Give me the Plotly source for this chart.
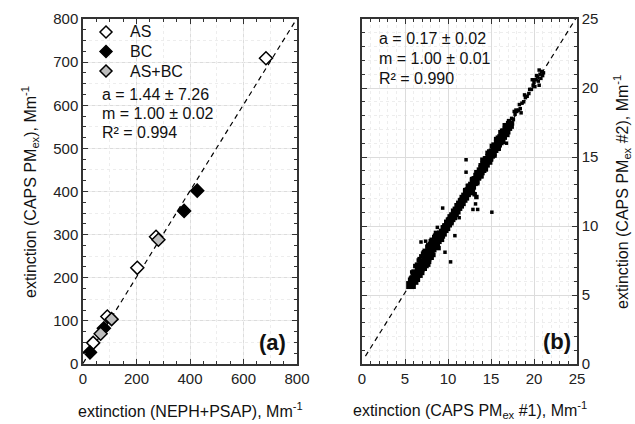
import plotly.graph_objects as go

FONT = "Liberation Sans, Arial, sans-serif"

# ---------------- Panel (a) data ----------------
as_x = [38, 91, 203, 273, 684]
as_y = [49, 110, 223, 295, 709]
as_xerr = [10, 12, 14, 16, 24]
as_yerr = [7, 8, 9, 10, 10]

asbc_x = [66, 107, 282]
asbc_y = [70, 104, 288]
asbc_xerr = [12, 12, 16]
asbc_yerr = [8, 8, 10]

bc_x = [26, 78, 378, 427]
bc_y = [27, 83, 355, 402]
bc_xerr = [8, 10, 14, 14]
bc_yerr = [6, 7, 9, 9]

legend_names = ["AS", "BC", "AS+BC"]
legend_fills = ["white", "black", "#bdbdbd"]

fit_a = {"a": 1.44, "m": 1.00, "a_err": 7.26, "m_err": 0.02, "r2": 0.994}
line_a_x = [0, 800]

# ---------------- Panel (b) data ----------------
core_x = [5.6, 5.8, 6.0, 6.2, 6.4, 6.6, 6.8, 7.0, 7.2, 7.4, 7.6, 7.8, 8.0, 8.2, 8.4,
          8.6, 8.8, 9.0, 9.2, 9.4, 9.6, 9.8, 10.0, 10.2, 10.4, 10.6, 10.8, 11.0, 11.2,
          11.4, 11.6, 11.8, 12.0, 12.2, 12.4, 12.6, 12.8, 13.0, 13.2, 13.4, 13.6, 13.8,
          14.0, 14.2, 14.4, 14.6, 14.8, 15.0, 15.2, 15.4, 15.6, 15.8, 16.0, 16.2, 16.4,
          16.6, 16.8, 17.0, 17.2]
core_y = [5.72, 5.98, 6.15, 6.38, 6.52, 6.79, 6.93, 7.18, 7.33, 7.58, 7.71, 7.97, 8.12,
          8.38, 8.55, 8.74, 8.98, 9.13, 9.37, 9.52, 9.78, 9.92, 10.18, 10.33, 10.57,
          10.71, 10.98, 11.12, 11.38, 11.55, 11.73, 11.97, 12.13, 12.38, 12.52, 12.79,
          12.92, 13.18, 13.33, 13.57, 13.74, 13.96, 14.13, 14.38, 14.52, 14.78, 14.94,
          15.17, 15.33, 15.58, 15.72, 15.97, 16.14, 16.37, 16.53, 16.78, 16.92, 17.18,
          17.33]

spread_x = [5.7, 6.0, 6.4, 6.9, 7.3, 7.7, 8.1, 8.6, 6.3, 6.8, 7.3, 7.8, 8.3, 8.8, 9.3,
            9.0, 9.6, 10.1, 10.6, 11.1, 11.5, 10.4, 10.9,
            12.0, 12.3, 12.8, 13.3, 13.8, 14.3, 14.8, 15.3, 15.8, 16.3,
            12.9, 13.4, 13.9, 14.4, 14.9, 15.4, 15.9, 16.4, 16.9, 13.1, 13.3, 12.7,
            6.6, 7.1, 7.6, 8.0, 8.4, 6.0, 6.5, 7.0, 7.5, 8.1, 14.0, 14.6, 15.1, 15.6,
            16.1, 16.6, 13.6, 14.1, 15.0, 16.0, 17.1,
            6.2, 6.7, 7.2, 7.9, 8.5, 5.9, 7.7, 8.9]
spread_y = [6.2, 6.7, 7.2, 7.8, 8.2, 8.6, 9.0, 9.5, 5.9, 6.4, 6.9, 7.4, 7.9, 8.5, 9.0,
            9.5, 10.0, 10.5, 10.9, 11.5, 11.9, 10.3, 10.8,
            12.6, 12.9, 13.4, 13.9, 14.4, 14.9, 15.4, 15.9, 16.4, 16.9,
            12.6, 13.1, 13.6, 14.1, 14.6, 15.1, 15.6, 16.1, 16.6, 12.3, 12.1, 12.4,
            7.5, 8.0, 8.5, 8.9, 9.2, 5.6, 6.1, 6.6, 7.1, 7.7, 14.8, 15.3, 15.8, 16.3,
            16.8, 17.3, 13.5, 14.0, 14.9, 15.9, 17.6,
            7.1, 7.6, 8.1, 8.7, 9.3, 6.6, 7.2, 8.4]

sparse_x = [17.4, 17.6, 17.8, 18.0, 18.2, 18.4, 18.6, 18.8, 19.0, 19.2, 19.5, 19.7,
            20.0, 20.2, 20.4, 20.5, 20.7, 20.9, 21.0, 20.8, 20.3, 19.9, 17.5, 17.9,
            18.3, 18.9, 19.4, 20.1, 20.6, 21.1, 17.7, 18.5, 19.8, 20.6]
sparse_y = [17.8, 17.7, 18.1, 18.3, 18.4, 18.5, 18.9, 19.0, 19.3, 19.4, 19.9, 19.9,
            20.4, 20.6, 20.8, 20.5, 21.0, 21.2, 20.9, 20.7, 20.9, 20.2, 17.4, 18.4,
            18.8, 19.5, 19.6, 20.1, 21.3, 21.1, 18.3, 18.2, 20.6, 20.2]

out_x = [12.1, 12.1, 13.45, 12.9, 6.86, 9.38, 8.76, 10.8, 15.1, 10.3, 9.65, 5.78, 13.2,
         7.4, 11.3, 16.8]
out_y = [14.8, 13.9, 11.2, 11.2, 8.84, 11.3, 9.9, 9.3, 11.0, 7.4, 8.1, 6.67, 11.6,
         8.9, 10.6, 16.0]

fit_b = {"a": 0.17, "m": 1.00, "a_err": 0.02, "m_err": 0.01, "r2": 0.990}
line_b_x = [0.4, 25]

W, H = 635, 424

# ---------------- Figure ----------------
fig = go.Figure()

def diamonds(x, y, xe, ye, fill, name):
    return go.Scatter(
        x=x, y=y, mode="markers", name=name, showlegend=False,
        marker=dict(symbol="diamond", size=10, color=fill,
                    line=dict(color="black", width=1.5)),
        error_x=dict(type="data", array=xe, color="black", thickness=1, width=0),
        error_y=dict(type="data", array=ye, color="black", thickness=1, width=0),
        xaxis="x", yaxis="y", cliponaxis=False,
    )

fig.add_trace(go.Scatter(
    x=line_a_x, y=[fit_a["a"] + fit_a["m"] * v for v in line_a_x], mode="lines",
    line=dict(color="black", width=1.2, dash="5px,4px"), showlegend=False,
    xaxis="x", yaxis="y"))
fig.add_trace(diamonds(as_x, as_y, as_xerr, as_yerr, legend_fills[0], legend_names[0]))
fig.add_trace(diamonds(bc_x, bc_y, bc_xerr, bc_yerr, legend_fills[1], legend_names[1]))
fig.add_trace(diamonds(asbc_x, asbc_y, asbc_xerr, asbc_yerr, legend_fills[2],
                       legend_names[2]))

# dummy traces to activate the overlay grid axes
fig.add_trace(go.Scatter(x=[None], y=[None], xaxis="x3", yaxis="y", showlegend=False,
                         hoverinfo="skip"))
fig.add_trace(go.Scatter(x=[None], y=[None], xaxis="x", yaxis="y3", showlegend=False,
                         hoverinfo="skip"))

# panel b
fig.add_trace(go.Scatter(
    x=line_b_x, y=[fit_b["a"] + fit_b["m"] * v for v in line_b_x], mode="lines",
    line=dict(color="black", width=1.2, dash="5px,4px"), showlegend=False,
    xaxis="x2", yaxis="y2"))
fig.add_trace(go.Scatter(x=core_x, y=core_y, mode="markers", showlegend=False,
                         marker=dict(symbol="square", size=8, color="black"),
                         xaxis="x2", yaxis="y2"))
fig.add_trace(go.Scatter(x=spread_x, y=spread_y, mode="markers", showlegend=False,
                         marker=dict(symbol="square", size=4.5, color="black"),
                         xaxis="x2", yaxis="y2"))
fig.add_trace(go.Scatter(x=sparse_x, y=sparse_y, mode="markers", showlegend=False,
                         marker=dict(symbol="square", size=3.5, color="black"),
                         xaxis="x2", yaxis="y2"))
fig.add_trace(go.Scatter(x=out_x, y=out_y, mode="markers", showlegend=False,
                         marker=dict(symbol="square", size=3.5, color="black"),
                         xaxis="x2", yaxis="y2"))

xa_dom = [83 / W, 297 / W]
xb_dom = [362 / W, 577 / W]
y_dom = [1 - 364 / H, 1 - 19 / H]

tickfont = dict(family=FONT, size=15, color="#222")
grid_major = "#dcdcdc"
grid_minor = "#ededed"

common = dict(showline=True, linecolor="#333", linewidth=1.5, mirror="ticks",
              ticks="inside", ticklen=5, tickwidth=1, tickcolor="#333",
              tickfont=tickfont, zeroline=False, showgrid=True,
              gridcolor=grid_major, gridwidth=1, automargin=False)
overlay = dict(showgrid=True, griddash="dot", gridcolor=grid_minor,
               showticklabels=False, ticks="", showline=False, zeroline=False,
               automargin=False)

fig.update_layout(
    width=W, height=H, margin=dict(l=0, r=0, t=0, b=0),
    paper_bgcolor="white", plot_bgcolor="white",
    font=dict(family=FONT, size=15, color="#222"),
    showlegend=False,
    xaxis=dict(domain=xa_dom, range=[0, 800], dtick=200, anchor="y",
               minor=dict(dtick=50, ticks="inside", ticklen=3, tickcolor="#333",
                          showgrid=False), **common),
    yaxis=dict(domain=y_dom, range=[0, 800], dtick=100, anchor="x",
               minor=dict(dtick=25, ticks="inside", ticklen=3, tickcolor="#333",
                          showgrid=False), **common),
    xaxis3=dict(overlaying="x", range=[0, 800], dtick=100, anchor="y", **overlay),
    yaxis3=dict(overlaying="y", range=[0, 800], dtick=50, anchor="x", **overlay),
    xaxis2=dict(domain=xb_dom, range=[0, 25], dtick=5, anchor="y2",
                minor=dict(dtick=1, ticks="inside", ticklen=3, tickcolor="#333",
                           showgrid=True, griddash="dot", gridcolor=grid_minor),
                **common),
    yaxis2=dict(domain=y_dom, range=[0, 25], dtick=5, anchor="x2", side="right",
                minor=dict(dtick=1, ticks="inside", ticklen=3, tickcolor="#333",
                           showgrid=True, griddash="dot", gridcolor=grid_minor),
                **common),
)

# manual legend (keys drawn as shapes in paper space)
shapes = []
ann = []

def px2paper(px, py):
    return px / W, 1 - py / H

def txt(x, y, s, size=15, angle=0, xanchor="left"):
    ann.append(dict(x=x / W, y=1 - y / H, xref="paper", yref="paper", text=s,
                    showarrow=False, xanchor=xanchor, yanchor="middle",
                    textangle=angle,
                    font=dict(family=FONT, size=size, color="#111")))

leg_cx, leg_y0, leg_dy, half = 106, 32, 19.5, 6
for i, (nm, fill) in enumerate(zip(legend_names, legend_fills)):
    cy = leg_y0 + i * leg_dy
    pts = [px2paper(leg_cx, cy - half), px2paper(leg_cx + half, cy),
           px2paper(leg_cx, cy + half), px2paper(leg_cx - half, cy)]
    path = "M " + " L ".join(f"{a:.5f},{b:.5f}" for a, b in pts) + " Z"
    shapes.append(dict(type="path", xref="paper", yref="paper", path=path,
                       fillcolor=fill, line=dict(color="black", width=1.5)))
    txt(128, cy, nm, size=16)

txt(100, 94, f"a = {fit_a['a']:.2f} ± {fit_a['a_err']:.2f}", size=16)
txt(100, 113, f"m = {fit_a['m']:.2f} ± {fit_a['m_err']:.2f}", size=16)
txt(100, 132, f"R² = {fit_a['r2']:.3f}", size=16)
txt(377, 39, f"a = {fit_b['a']:.2f} ± {fit_b['a_err']:.2f}", size=16)
txt(377, 58.5, f"m = {fit_b['m']:.2f} ± {fit_b['m_err']:.2f}", size=16)
txt(377, 78, f"R² = {fit_b['r2']:.3f}", size=16)
txt(272, 342, "<b>(a)</b>", size=22, xanchor="center")
txt(557, 341, "<b>(b)</b>", size=22, xanchor="center")
txt(190, 410, "extinction (NEPH+PSAP), Mm<sup>-1</sup>", size=16, xanchor="center")
txt(470, 410, "extinction (CAPS PM<sub>ex</sub> #1), Mm<sup>-1</sup>", size=16,
    xanchor="center")
txt(30, 192, "extinction (CAPS PM<sub>ex</sub>), Mm<sup>-1</sup>", size=16, angle=-90,
    xanchor="center")
txt(622, 192, "extinction (CAPS PM<sub>ex</sub> #2), Mm<sup>-1</sup>", size=16,
    angle=-90, xanchor="center")
fig.update_layout(annotations=ann, shapes=shapes)

fig.write_html("out.html",
               config={"displayModeBar": False},
               post_script="document.body.style.margin='0px';"
                           "document.body.style.padding='0px';")
